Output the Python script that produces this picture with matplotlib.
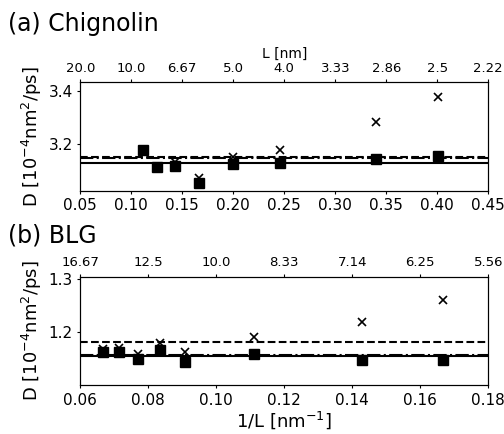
import matplotlib
matplotlib.use("Agg")
import matplotlib.pyplot as plt
import numpy as np

# (a) Chignolin
x_chig = [1/9, 1/8, 1/7, 1/6, 1/5, 0.2458, 0.3396, 0.401]
d_sq_chig = [3.179, 3.114, 3.118, 3.057, 3.125, 3.129, 3.145, 3.157]
d_x_chig = [3.18, 3.116, 3.133, 3.075, 3.154, 3.18, 3.282, 3.378]
lines_chig = {"solid": 3.131, "dashed": 3.152, "dashdot": 3.148}
xticks_chig = [0.05, 0.10, 0.15, 0.20, 0.25, 0.30, 0.35, 0.40, 0.45]

# (b) BLG
x_blg = [1/15, 1/14, 1/13, 1/12, 1/11, 1/9, 1/7, 1/6]
d_sq_blg = [1.163, 1.163, 1.149, 1.167, 1.144, 1.159, 1.148, 1.148]
d_x_blg = [1.169, 1.171, 1.160, 1.180, 1.163, 1.192, 1.219, 1.261]
lines_blg = {"solid": 1.155, "dashed": 1.182, "dashdot": 1.157}
xticks_blg = [0.06, 0.08, 0.10, 0.12, 0.14, 0.16, 0.18]

fig = plt.figure(figsize=(5.04, 4.34), dpi=100)
W, H = 504, 434

def panel(rect, x, dsq, dx, lines, xticks, ylim, yticks):
    ax = fig.add_axes(rect)
    ax.axhline(lines["solid"], color="black", lw=1.5, ls="-")
    ax.axhline(lines["dashed"], color="black", lw=1.5, ls="--")
    ax.axhline(lines["dashdot"], color="black", lw=1.5, ls="-.")
    ax.plot(x, dx, "x", color="black", ms=6, mew=1.2)
    ax.plot(x, dsq, "s", color="black", ms=6.5)
    ax.set_xlim(xticks[0], xticks[-1])
    ax.set_xticks(xticks)
    ax.set_ylim(*ylim)
    ax.set_yticks(yticks)
    ax.tick_params(labelsize=11, length=2.5, pad=3)
    ax.set_ylabel(r"D [$10^{-4}$nm$^2$/ps]", fontsize=13, labelpad=3)
    top = ax.twiny()
    top.set_xlim(ax.get_xlim())
    top.set_xticks(xticks)
    top.set_xticklabels([str(round(1/v, 2)) for v in xticks])
    top.tick_params(labelsize=9.5, length=2.5, pad=3)
    return ax, top

ax1, top1 = panel([80.3/W, 1-190.7/H, 408/W, 108.4/H], x_chig, d_sq_chig, d_x_chig,
                  lines_chig, xticks_chig, (3.027, 3.431), [3.2, 3.4])
top1.set_xlabel("L [nm]", fontsize=10, labelpad=3)
ax1.xaxis.set_major_formatter(matplotlib.ticker.FormatStrFormatter("%.2f"))

ax2, top2 = panel([80.3/W, 1-385.3/H, 408/W, 108.6/H], x_blg, d_sq_blg, d_x_blg,
                  lines_blg, xticks_blg, (1.1, 1.305), [1.2, 1.3])
ax2.xaxis.set_major_formatter(matplotlib.ticker.FormatStrFormatter("%.2f"))
ax2.set_xlabel(r"1/L [nm$^{-1}$]", fontsize=13, labelpad=1)

fig.text(8/W, 1-24/H, "(a) Chignolin", fontsize=17, va="center", ha="left")
fig.text(8/W, 1-235/H, "(b) BLG", fontsize=17, va="center", ha="left")

fig.savefig("out.png", dpi=100)
